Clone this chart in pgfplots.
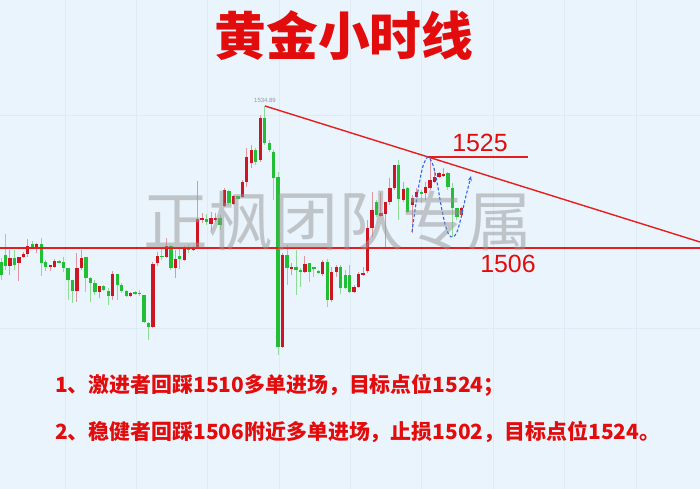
\documentclass[border=0pt]{standalone}
\usepackage{pgfplots}
\pgfplotsset{compat=1.18}
\usepackage{pgfplotstable}
\usepackage{fontspec}
\setmainfont{Liberation Sans}
\newfontfamily\cjk{Noto Sans CJK SC}
\usetikzlibrary{arrows.meta}
\definecolor{bgblue}{RGB}{234,244,252}
\definecolor{gridc}{RGB}{222,234,245}
\definecolor{upbody}{RGB}{206,22,34}
\definecolor{upwick}{RGB}{222,150,160}
\definecolor{dnbody}{RGB}{34,190,52}
\definecolor{dnwick}{RGB}{140,220,150}
\definecolor{lred}{RGB}{228,30,30}
\definecolor{txtred}{RGB}{226,12,12}
\definecolor{curveblue}{RGB}{50,100,230}

\pgfplotstableread{
i o h l c
2 1502.33 1505.53 1500.43 1503.96
4 1502.82 1504.16 1499.27 1504.16
5 1504.04 1505.12 1503.90 1504.78
6 1504.71 1507.78 1504.16 1506.41
8 1506.20 1506.96 1504.92 1506.76
11 1502.12 1502.47 1501.31 1502.41
12 1502.12 1503.69 1501.86 1503.35
17 1497.16 1504.92 1494.98 1501.80
18 1501.80 1505.53 1501.45 1503.84
22 1496.90 1498.24 1495.67 1498.24
25 1496.14 1501.31 1495.33 1500.63
29 1496.14 1496.96 1495.94 1496.82
34 1489.88 1503.08 1489.61 1502.67
35 1502.82 1505.18 1502.27 1504.31
37 1504.16 1507.98 1503.84 1506.35
39 1501.80 1505.53 1499.82 1503.63
41 1503.49 1506.35 1503.35 1506.08
43 1505.53 1506.35 1505.33 1506.08
44 1505.88 1519.67 1505.67 1511.80
45 1511.65 1513.08 1511.04 1512.00
47 1510.84 1513.35 1509.61 1512.00
48 1511.65 1513.02 1511.24 1512.00
50 1514.51 1518.18 1514.31 1517.78
52 1514.92 1516.76 1514.71 1516.65
54 1516.41 1519.82 1516.08 1519.47
55 1519.47 1526.29 1518.45 1524.57
56 1523.22 1526.96 1522.20 1525.94
58 1523.90 1533.08 1523.55 1532.41
63 1485.80 1504.92 1485.53 1504.51
65 1501.59 1502.82 1500.43 1502.00
68 1501.10 1504.31 1500.78 1502.67
72 1500.63 1503.49 1500.22 1503.14
74 1495.33 1502.12 1494.98 1501.10
75 1501.10 1502.47 1500.08 1502.00
79 1497.02 1498.39 1496.82 1498.04
80 1497.92 1501.10 1497.71 1500.63
81 1500.43 1502.12 1500.22 1500.90
82 1501.24 1511.65 1500.78 1510.02
83 1509.96 1517.43 1508.24 1513.69
85 1512.47 1517.16 1512.33 1513.02
86 1512.88 1515.39 1505.88 1515.39
87 1515.39 1520.16 1514.71 1518.12
88 1518.12 1522.88 1517.78 1522.88
90 1515.73 1519.47 1515.39 1517.92
92 1514.71 1516.76 1508.94 1516.08
93 1516.41 1518.12 1516.08 1517.43
95 1517.10 1519.47 1515.73 1518.45
96 1518.12 1524.57 1517.78 1519.82
97 1519.47 1522.20 1519.14 1520.37
98 1520.49 1521.51 1520.16 1521.18
99 1520.63 1522.20 1520.49 1520.98
103 1512.67 1514.37 1512.33 1514.04
}\upc

\pgfplotstableread{
i o h l c
0 1503.14 1503.90 1499.41 1500.43
1 1504.51 1508.80 1501.45 1502.27
3 1503.96 1505.53 1501.45 1502.47
7 1506.69 1507.43 1505.88 1506.20
9 1506.76 1507.98 1500.29 1502.82
10 1503.02 1503.49 1501.31 1502.12
13 1503.35 1503.59 1502.78 1502.94
14 1503.02 1504.10 1501.10 1501.92
15 1501.92 1501.92 1495.33 1499.41
16 1499.41 1499.41 1494.71 1497.22
19 1504.04 1504.10 1497.02 1499.76
20 1499.76 1500.08 1494.98 1498.73
21 1498.73 1499.41 1496.35 1497.02
23 1498.24 1498.39 1497.16 1497.37
24 1497.16 1497.71 1494.31 1496.14
26 1500.63 1500.63 1495.33 1498.39
27 1498.39 1498.80 1496.76 1497.16
28 1497.16 1497.37 1495.94 1496.14
30 1496.82 1497.08 1496.45 1496.65
31 1496.82 1497.37 1496.14 1496.55
32 1496.35 1496.35 1490.63 1490.90
33 1490.57 1490.90 1487.16 1489.88
36 1504.31 1506.20 1503.49 1504.04
38 1506.35 1506.55 1501.45 1501.80
40 1504.31 1506.20 1501.65 1503.63
42 1506.08 1506.55 1504.86 1505.53
46 1511.80 1512.88 1510.63 1511.31
49 1512.12 1512.67 1509.61 1510.63
51 1517.57 1517.78 1514.71 1515.12
53 1516.55 1516.65 1515.84 1516.04
57 1525.94 1526.35 1522.88 1523.55
59 1532.41 1534.89 1526.96 1527.31
60 1527.31 1527.98 1525.53 1525.94
61 1525.59 1525.94 1515.73 1520.16
62 1520.49 1521.51 1484.10 1485.80
64 1504.51 1506.55 1498.39 1501.80
66 1502.00 1505.53 1496.35 1501.45
67 1501.45 1501.80 1498.04 1501.10
69 1502.82 1502.88 1499.06 1501.10
70 1502.00 1502.12 1500.08 1501.59
71 1501.31 1501.45 1500.63 1500.78
73 1503.14 1503.63 1493.96 1495.33
76 1502.00 1502.47 1496.55 1497.71
77 1500.43 1501.45 1497.57 1497.71
78 1500.43 1502.47 1496.82 1497.02
84 1515.39 1515.73 1512.33 1512.67
89 1522.88 1523.90 1511.65 1515.88
91 1518.12 1518.39 1513.08 1513.35
94 1517.37 1517.78 1515.12 1517.06
100 1521.18 1521.51 1517.78 1518.45
101 1518.12 1519.14 1508.24 1514.04
102 1514.04 1514.04 1511.65 1512.33
}\dnc

\pgfplotsset{
  candle/.style 2 args={draw=none, mark=none, forget plot,
    error bars/.cd, y dir=plus, y explicit, error mark=none,
    error bar style={line width=#1, draw=#2, solid}},
}

\begin{document}
\begin{tikzpicture}
\useasboundingbox (0,0) rectangle (700bp,489bp);
\begin{axis}[
  at={(0,0)}, anchor=south west,
  width=700bp, height=489bp, scale only axis,
  xmin=-0.224, xmax=156.38, ymin=1456.76, ymax=1556.55,
  axis background/.style={fill=bgblue},
  axis line style={draw=none},
  tick style={draw=none},
  xtick={14.3,30.27,46.24,62.21,78.18,94.15,110.12,126.09,142.06},
  ytick={1489.61,1533.08},
  xticklabels={}, yticklabels={},
  grid=major,
  major grid style={draw=gridc, line width=0.8bp},
  clip=true,
]
% wicks
\addplot[candle={1bp}{upwick}]
  table[x=i, y=l, y error expr={\thisrow{h}-\thisrow{l}}] {\upc};
\addplot[candle={1bp}{dnwick}]
  table[x=i, y=l, y error expr={\thisrow{h}-\thisrow{l}}] {\dnc};
% bodies
\addplot[candle={3.3bp}{upbody}]
  table[x=i, y expr={min(\thisrow{o},\thisrow{c})}, y error expr={max(abs(\thisrow{c}-\thisrow{o}),0.3)}] {\upc};
\addplot[candle={3.3bp}{dnbody}]
  table[x=i, y expr={min(\thisrow{o},\thisrow{c})}, y error expr={max(abs(\thisrow{c}-\thisrow{o}),0.3)}] {\dnc};
% support line 1506
\addplot[draw=lred, line width=1.9bp, mark=none] coordinates {(-1,1506) (160,1506)};
% trend line
\addplot[draw=lred, line width=1.4bp, mark=none] coordinates {(59.06,1534.92) (156.4,1507.16)};
% 1525 line
\addplot[draw=lred, line width=1.4bp, mark=none] coordinates {(95.5,1524.51) (117.9,1524.51)};
% blue dashed wave
\addplot[draw=curveblue, line width=1.1bp, mark=none, dash pattern=on 3bp off 2bp, smooth, -{Stealth[length=5bp,width=4bp]}] coordinates {
(91.95,1509.20) (92.62,1513.69) (93.51,1518.80) (94.41,1522.67) (95.53,1524.51)
(96.64,1522.88) (97.54,1519.41) (98.43,1514.71) (99.33,1510.84) (100.22,1508.59)
(101.12,1508.18) (102.01,1509.20) (102.91,1512.06) (103.80,1515.73) (104.70,1519.00) (105.15,1520.63)};
\end{axis}
% watermark
\node[text={rgb,255:red,150;green,150;blue,150}, opacity=0.5, font=\cjk\fontsize{65}{65}\selectfont] at (338bp,268bp) {正枫团队专属};
% peak label
\node[text={rgb,255:red,150;green,150;blue,150}, font=\fontsize{6}{6}\selectfont] at (265bp,389bp) {1534.89};
% title
\node[text=txtred, font=\cjk\bfseries\fontsize{52}{52}\selectfont] at (344bp,453bp) {黄金小时线};
% level labels
\node[text=txtred, font=\fontsize{25}{25}\selectfont] at (480bp,346.5bp) {1525};
\node[text=txtred, font=\fontsize{25}{25}\selectfont] at (508bp,225bp) {1506};
% notes
\node[anchor=west, text=txtred, font=\cjk\bfseries\fontsize{21}{21}\selectfont, inner sep=0pt] at (55bp,104bp) {1、激进者回踩1510多单进场，目标点位1524；};
\node[anchor=west, text=txtred, font=\cjk\bfseries\fontsize{21}{21}\selectfont, inner sep=0pt] at (55bp,57bp) {2、稳健者回踩1506附近多单进场，止损1502，目标点位1524。};
\end{tikzpicture}
\end{document}
